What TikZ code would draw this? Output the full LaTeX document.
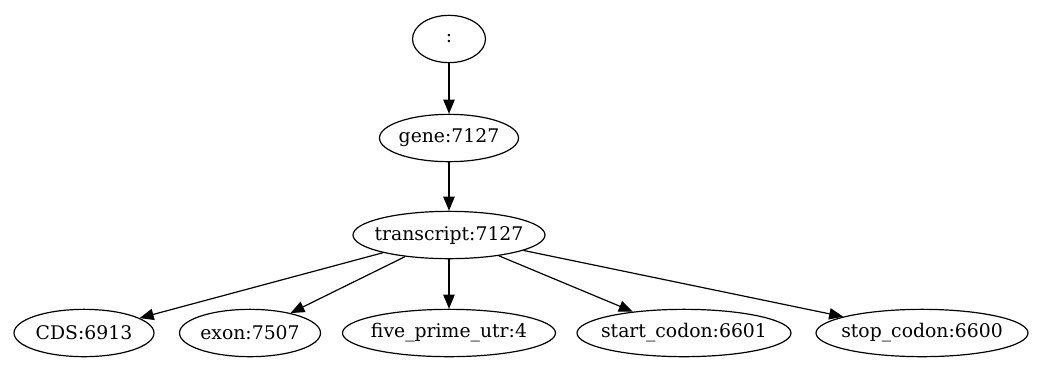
\documentclass[tikz,border=0pt]{standalone}
\usepackage{fontspec}
\setmainfont{DejaVu Serif}
\usetikzlibrary{shapes.geometric,arrows.meta}
% label of zero width, so that the ellipse keeps its given size
\newcommand{\nlabel}[1]{\makebox[0pt]{#1}}
\begin{document}
\begin{tikzpicture}[x=0.75pt,y=-0.75pt,
  gnode/.style={ellipse,draw=black,line width=0.9pt,inner sep=0pt,
    minimum height=35.5pt,font=\fontsize{14.1pt}{16pt}\selectfont},
  garrow/.style={line width=0.9pt,-{Triangle[length=10.5pt,width=8.5pt]}}]
  \useasboundingbox (0,0) rectangle (1041,383);
  \node[gnode,minimum width=54.75pt] (root) at (449,39) {\nlabel{:}};
  \node[gnode,minimum width=104.25pt] (gene) at (449,138) {\nlabel{gene:7127}};
  \node[gnode,minimum width=144pt] (tx) at (449,235) {\nlabel{transcript:7127}};
  \node[gnode,minimum width=105pt] (cds) at (84,333) {\nlabel{CDS:6913}};
  \node[gnode,minimum width=105.75pt] (exon) at (250,333) {\nlabel{exon:7507}};
  \node[gnode,minimum width=159.75pt] (five) at (449,333) {\nlabel{five\_prime\_utr:4}};
  \node[gnode,minimum width=160.5pt] (start) at (684,333) {\nlabel{start\_codon:6601}};
  \node[gnode,minimum width=159pt] (stop) at (922,333) {\nlabel{stop\_codon:6600}};
  \draw[garrow] (root) -- (gene);
  \draw[garrow] (gene) -- (tx);
  \draw[garrow] (tx) -- (cds);
  \draw[garrow] (tx) -- (exon);
  \draw[garrow] (tx) -- (five);
  \draw[garrow] (tx) -- (start);
  \draw[garrow] (tx) -- (stop);
\end{tikzpicture}
\end{document}
